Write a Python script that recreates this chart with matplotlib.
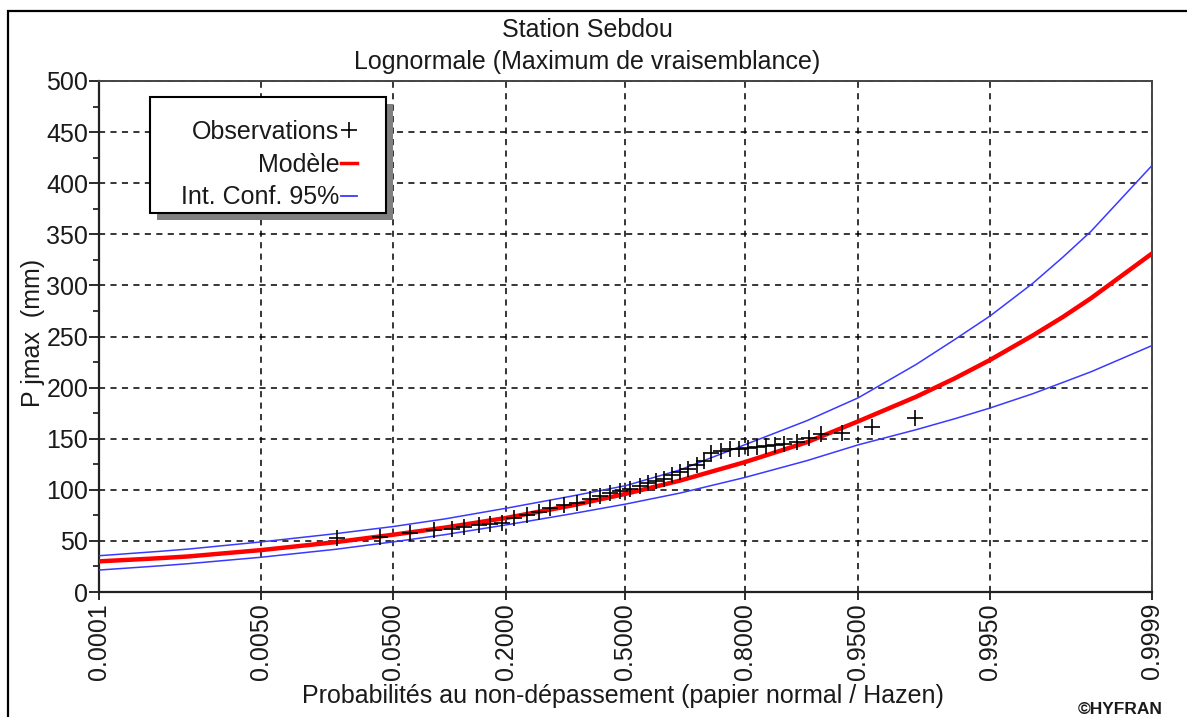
import numpy as np
import matplotlib
matplotlib.use('Agg')
import matplotlib.pyplot as plt
from matplotlib.ticker import MultipleLocator, NullLocator, FixedLocator
from matplotlib.patches import Rectangle
from statistics import NormalDist

# valeurs (probabilité au non-dépassement, pluie en mm)
prob_obs = [0.0208, 0.0416, 0.0643, 0.0879, 0.1101, 0.1263, 0.1496, 0.1697,
            0.1913, 0.2145, 0.2432, 0.2696, 0.2974, 0.3307, 0.3658, 0.4016,
            0.4290, 0.4570, 0.4852, 0.5132, 0.5414, 0.5636, 0.5859, 0.6076,
            0.6293, 0.6503, 0.6711, 0.6936, 0.7109, 0.7274, 0.7505, 0.7701,
            0.7890, 0.8070, 0.8238, 0.8399, 0.8548, 0.8688, 0.8873, 0.9027,
            0.9165, 0.9371, 0.9593, 0.9796]
pluie_obs = [53, 54, 57.5, 61, 62, 64, 66, 67,
             68, 72, 75, 78, 82, 85, 87, 91,
             94, 97, 99, 101, 104, 107, 109, 111,
             114, 117, 120, 124, 128, 136, 138, 140,
             140, 141, 142, 143, 144, 145, 147, 151,
             155, 156, 161, 170]

prob_courbe = [0.0001, 0.0005, 0.001, 0.005, 0.02, 0.05, 0.1, 0.2, 0.35, 0.5,
               0.65, 0.8, 0.9, 0.95, 0.98, 0.99, 0.995, 0.998, 0.999, 0.9995, 0.9999]
modele = [30, 33.1, 34.8, 41, 48.7, 56, 62.9, 72.5, 84.5, 96,
          109, 127, 146.5, 167, 191, 209, 227, 251, 269, 287.5, 331]
ic_haut = [35.5, 39.8, 42, 49, 57, 64, 71.4, 82, 93.7, 104,
           119.5, 144, 167.6, 190, 222.6, 247, 270, 302, 327.5, 353, 417]
ic_bas = [21.5, 25.6, 27.7, 34, 41.7, 49, 56, 65.7, 76.4, 86,
          96.8, 112, 128.5, 144, 158.8, 169.5, 180, 194, 205, 215.5, 241]

ticks_x = [0.0001, 0.005, 0.05, 0.2, 0.5, 0.8, 0.95, 0.995, 0.9999]

plt.rcParams['font.family'] = ['Liberation Sans', 'DejaVu Sans']
plt.rcParams['text.color'] = '#1a1a1a'
taille = 18

# échelle de probabilité normale (papier normal)
loi = NormalDist()


def vers_z(p):
    p = np.clip(np.asarray(p, dtype=float), 1e-9, 1 - 1e-9)
    return np.vectorize(loi.inv_cdf, otypes=[float])(p)


def vers_p(z):
    return np.vectorize(loi.cdf, otypes=[float])(np.asarray(z, dtype=float))


W, H = 1187, 717
fig = plt.figure(figsize=(W / 100, H / 100), dpi=100)
ax = fig.add_axes([99.3 / W, 1 - 592 / H, (1151.7 - 99.3) / W, (592 - 81) / H])
ax.set_xscale('function', functions=(vers_z, vers_p))

ax.plot(prob_courbe, ic_haut, color='#3a3aff', lw=1.1, zorder=3)
ax.plot(prob_courbe, ic_bas, color='#3a3aff', lw=1.1, zorder=3)
ax.plot(prob_courbe, modele, color='#ff0000', lw=3.2, zorder=4)
ax.plot(prob_obs, pluie_obs, ls='none', marker='+', ms=11, mew=1.2,
        color='black', zorder=5)

ax.set_xlim(0.0001, 0.9999)
ax.set_ylim(0, 500)
ax.xaxis.set_major_locator(FixedLocator(ticks_x))
ax.xaxis.set_minor_locator(NullLocator())
ax.set_xticklabels(['%.4f' % t for t in ticks_x], rotation=90)
ax.yaxis.set_major_locator(MultipleLocator(50))
ax.yaxis.set_minor_locator(MultipleLocator(25))

ax.tick_params(axis='both', which='major', labelsize=taille, colors='#1a1a1a',
               direction='out', width=1.3)
ax.tick_params(axis='y', which='major', length=7, pad=1)
ax.tick_params(axis='y', which='minor', length=4, width=1.1)
ax.tick_params(axis='x', which='major', length=6, pad=2)

ax.grid(True, which='major', color='black', linestyle=(0, (4, 3.5)), lw=1.1)
for s in ['left', 'bottom']:
    ax.spines[s].set_linewidth(1.6)
    ax.spines[s].set_color('#222222')
for s in ['top', 'right']:
    ax.spines[s].set_linewidth(1.4)
    ax.spines[s].set_color('#444444')

# cadre de la légende avec ombre (en pixels de la figure)
ombre = Rectangle((157 / W, 1 - 220 / H), 236 / W, 116 / H, transform=fig.transFigure,
                  facecolor='#808080', edgecolor='none', zorder=8, clip_on=False)
cadre = Rectangle((150 / W, 1 - 213 / H), 236 / W, 116 / H, transform=fig.transFigure,
                  facecolor='white', edgecolor='black', lw=1.5, zorder=9, clip_on=False)
ax.add_patch(ombre)
ax.add_patch(cadre)

# légende : texte aligné à droite, symbole après le texte
h_obs, = ax.plot([], [], ls='none', marker='+', ms=11, mew=1.2, color='black')
h_mod, = ax.plot([], [], color='#ff0000', lw=2.5)
h_ic, = ax.plot([], [], color='#3a3aff', lw=1.3)
leg = ax.legend([h_obs, h_mod, h_ic],
                ['Observations', 'Modèle', 'Int. Conf. 95%'],
                loc='upper right', bbox_to_anchor=(357 / W, 1 - 120 / H),
                bbox_transform=fig.transFigure,
                borderaxespad=0, fontsize=taille, markerfirst=False,
                alignment='right', handlelength=0.66, handletextpad=0.05,
                labelspacing=0.35, borderpad=0, frameon=False)
leg.set_zorder(10)

# titres
fig.text(587 / W, 1 - 37 / H, 'Station Sebdou', ha='center', va='baseline', fontsize=taille)
fig.text(587 / W, 1 - 69 / H, 'Lognormale (Maximum de vraisemblance)',
         ha='center', va='baseline', fontsize=taille)
fig.text(623 / W, 1 - 703 / H, 'Probabilités au non-dépassement (papier normal / Hazen)',
         ha='center', va='baseline', fontsize=taille)
fig.text(33 / W, 1 - 333 / H, 'P jmax  (mm)', rotation=90, ha='center',
         va='center', fontsize=taille)
fig.text(1163 / W, 1 - 714 / H, '©HYFRAN', ha='right', va='baseline',
         fontsize=12.5, fontweight='bold')

# cadre extérieur (bords haut et gauche visibles)
fig.add_artist(Rectangle((8 / W, -0.1), 1.2, 1.1 - 11 / H, transform=fig.transFigure,
                         fill=False, edgecolor='black', lw=1.6))

fig.savefig('out.png', dpi=100)
